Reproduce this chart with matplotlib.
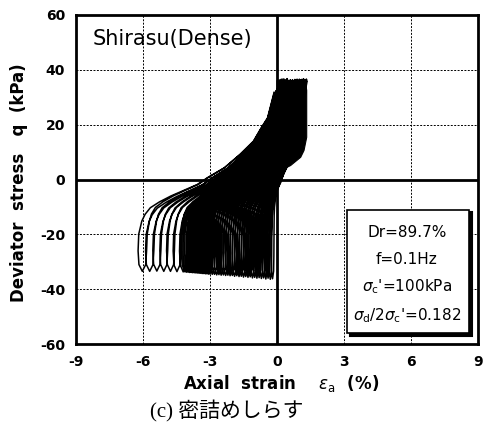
import matplotlib.pyplot as plt
import matplotlib.transforms as mtrans
from matplotlib.patches import Rectangle, Polygon
import numpy as np

plt.rcParams['font.family'] = ['DejaVu Sans']
plt.rcParams['axes.unicode_minus'] = False
plt.rcParams['mathtext.fontset'] = 'dejavusans'

# turning points of each load cycle
# strain (%) and deviator stress (kPa) at the extension peak of each cycle
bottom_strain = [-0.2, -0.3, -0.4, -0.5, -0.6, -0.7, -0.8, -0.9, -1.0, -1.1,
                 -1.2, -1.3, -1.4, -1.5, -1.6, -1.7, -1.8, -1.9, -2.0, -2.1,
                 -2.2, -2.3, -2.4, -2.5, -2.6, -2.7, -2.8, -2.9, -3.0, -3.07,
                 -3.14, -3.21, -3.28, -3.35, -3.42, -3.49, -3.56, -3.63, -3.7,
                 -3.77, -3.84, -3.91, -3.98, -4.05, -4.12, -4.2,
                 -4.48, -4.77, -5.07, -5.38, -5.7, -6.03]
bottom_stress = [-36.2, -36.4, -36.0, -36.3, -35.9, -36.1, -35.8, -36.0, -35.7,
                 -35.9, -35.5, -35.7, -35.4, -35.6, -35.3, -35.4, -35.1, -35.3,
                 -35.0, -35.1, -34.9, -35.0, -34.8, -34.9, -34.7, -34.8, -34.6,
                 -34.6, -34.5, -34.5, -34.4, -34.4, -34.3, -34.3, -34.2, -34.2,
                 -34.1, -34.1, -34.0, -34.0, -33.9, -33.9, -33.8, -33.8, -33.7,
                 -33.7, -33.6, -33.5, -33.5, -33.4, -33.5, -33.5]
# width of the loop foot (%) near the extension peak
loop_width = [0.12, 0.12, 0.13, 0.13, 0.14, 0.14, 0.15, 0.15, 0.16, 0.16,
              0.17, 0.17, 0.18, 0.18, 0.19, 0.19, 0.2, 0.2, 0.21, 0.21,
              0.22, 0.22, 0.23, 0.23, 0.24, 0.24, 0.25, 0.25, 0.26, 0.26,
              0.27, 0.27, 0.28, 0.28, 0.29, 0.29, 0.3, 0.3, 0.3, 0.31,
              0.31, 0.31, 0.32, 0.32, 0.32, 0.33,
              0.34, 0.35, 0.35, 0.36, 0.37, 0.38]
# strain and stress at the compression peaks (one more than the extension peaks)
top_strain = [0.2, 0.45, 0.7, 0.9, 1.05, 1.18, 1.27, 1.32, 1.33, 1.3, 1.25,
              1.2, 1.15, 1.1, 1.05, 1.0, 0.95, 0.9, 0.85, 0.8, 0.75, 0.7, 0.65,
              0.6, 0.55, 0.5, 0.46, 0.42, 0.38, 0.34, 0.3, 0.27, 0.24, 0.21,
              0.18, 0.15, 0.12, 0.1, 0.08, 0.06, 0.04, 0.02, 0.0, -0.01, -0.02,
              -0.03, -0.05, -0.07, -0.09, -0.1, -0.11, -0.12, -0.13]
top_stress = [36.5, 36.8, 36.2, 36.6, 36.0, 36.7, 36.3, 36.6, 36.0, 36.5, 36.2,
              36.6, 36.1, 36.5, 36.3, 36.6, 36.0, 36.4, 36.2, 36.5, 36.0, 36.3,
              36.1, 36.4, 36.0, 36.2, 35.8, 36.0, 35.6, 35.8, 35.5, 35.6, 35.2,
              35.3, 35.0, 34.8, 34.5, 34.3, 34.0, 33.8, 33.5, 33.2, 33.0, 32.8,
              32.5, 32.2, 32.0, 31.8, 31.5, 31.2, 31.0, 31.5, 31.8]

# loop centre line read from the outermost loop, as fractions of the cycle
# span (u: 0 at compression peak, 1 at extension peak; v: 0 at q_min, 1 at q_max)
centre_u = [1.0, 1.0, 1.0, 0.995, 0.975, 0.955, 0.92, 0.855, 0.772, 0.578,
            0.505, 0.377, 0.258, 0.157, 0.1, 0.05, 0.0]
centre_v = [0.0, 0.038, 0.115, 0.209, 0.282, 0.32, 0.357, 0.39, 0.423, 0.487,
            0.524, 0.58, 0.655, 0.728, 0.8, 0.858, 1.0]
# how much of the foot width is still open at each height
foot_open = [0.0, 0.8, 1.0, 1.0, 0.9, 0.75, 0.6, 0.45, 0.35, 0.2, 0.15, 0.1,
             0.08, 0.05, 0.03, 0.02, 0.0]

# solid black block of the first cycles on the compression side
block_strain = [0.0, 0.3, 0.6, 0.9, 1.28, 1.33, 1.33, 1.21, 1.06, 0.61, 0.17, 0.0]
block_stress = [36.1, 36.7, 35.5, 36.1, 35.5, 32.5, 15.4, 10.6, 8.1, 5.1, 3.3, 2.0]

x_ticks = [-9, -6, -3, 0, 3, 6, 9]
y_ticks = [-60, -40, -20, 0, 20, 40, 60]

# build the stress path cycle by cycle
ea, q = [], []
cu, cv, fo = np.array(centre_u), np.array(centre_v), np.array(foot_open)
for k in range(len(bottom_strain)):
    eb, qb, w = bottom_strain[k], bottom_stress[k], loop_width[k]
    et, qt = top_strain[k], top_stress[k]
    # unloading: compression peak -> extension peak, left side of the foot
    ea += list((et + cu * (eb - et) - 0.5 * w * fo)[::-1])
    q += list((qb + cv * (qt - qb))[::-1])
    # reloading: extension peak -> next compression peak, right side of the foot
    et2, qt2 = top_strain[k + 1], top_stress[k + 1]
    ea += list(et2 + cu * (eb - et2) + 0.5 * w * fo)
    q += list(qb + cv * (qt2 - qb))

fig = plt.figure(figsize=(4.85, 4.37), dpi=100)
ax = fig.add_axes([76 / 485, 1 - 344 / 437, 402 / 485, 329 / 437])

ax.add_patch(Polygon(np.column_stack([block_strain, block_stress]),
                     closed=True, facecolor='k', edgecolor='k', lw=0.8))
ax.plot(ea, q, color='k', lw=1.1)

ax.axhline(0, color='k', lw=2)
ax.axvline(0, color='k', lw=2)

ax.set_xlim(-9, 9)
ax.set_ylim(-60, 60)
ax.set_xticks(x_ticks)
ax.set_yticks(y_ticks)
ax.tick_params(length=0, labelsize=10, pad=8)
for lab in ax.get_xticklabels() + ax.get_yticklabels():
    lab.set_fontweight('bold')
ax.grid(True, color='k', linestyle=(0, (2, 1.5)), lw=0.7)
for s in ax.spines.values():
    s.set_linewidth(2)

ax.text(-8.25, 51.1, 'Shirasu(Dense)', fontsize=15, va='center', ha='left')

# parameter box with a drop shadow
shadow = mtrans.offset_copy(ax.transData, fig=fig, x=2.5, y=-2.5, units='dots')
ax.add_patch(Rectangle((3.14, -56.0), 5.46, 44.9, transform=shadow,
                       facecolor='k', edgecolor='k', lw=1.5, zorder=5))
ax.add_patch(Rectangle((3.14, -56.0), 5.46, 44.9,
                       facecolor='white', edgecolor='k', lw=1.2, zorder=6))
box_lines = ['Dr=89.7%', 'f=0.1Hz', r"$\sigma_{\rm c}$'=100kPa",
             r"$\sigma_{\rm d}$/2$\sigma_{\rm c}$'=0.182"]
box_y = [-19.5, -29.0, -39.2, -49.8]
for txt, yy in zip(box_lines, box_y):
    ax.text(5.82, yy, txt, fontsize=11, ha='center', va='center', zorder=7)

fig.text(281 / 485, 1 - 384 / 437, r'Axial  strain    $\epsilon_{\rm a}$  (%)',
         fontsize=12, fontweight='bold', ha='center', va='center')
fig.text(19.5 / 485, 1 - 183 / 437, 'Deviator  stress   q  (kPa)',
         fontsize=12, fontweight='bold', ha='center', va='center', rotation=90)
fig.text(227 / 485, 1 - 411 / 437, '(c) 密詰めしらす', fontsize=15,
         family=['Liberation Serif', 'Noto Sans CJK JP'],
         ha='center', va='center')

fig.savefig('out.png', dpi=100)
